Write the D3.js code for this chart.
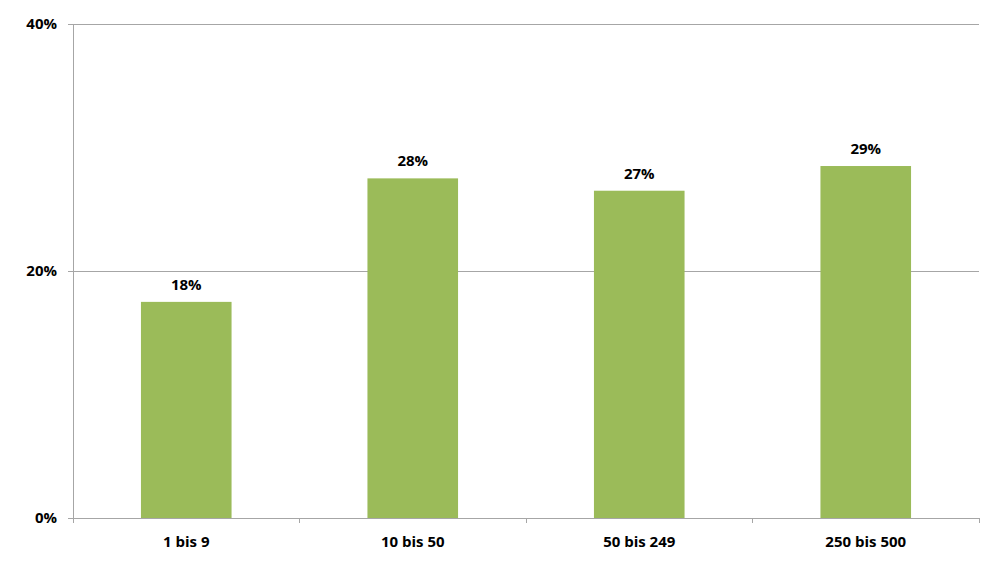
<!DOCTYPE html>
<html>
<head>
<meta charset="utf-8">
<script src="https://cdn.jsdelivr.net/npm/d3@7"></script>
<style>
  body { margin: 0; background: #fff; }
  text { font-family: "Open Sans", "Noto Sans", sans-serif; font-weight: bold; fill: #000; }
</style>
</head>
<body>
<svg id="chart" width="1000" height="577"></svg>
<script>
const categories = ["1 bis 9", "10 bis 50", "50 bis 249", "250 bis 500"];
const values = [17.5, 27.5, 26.5, 28.5];
const valueLabels = ["18%", "28%", "27%", "29%"];
const yTicks = [0, 20, 40];
const yTickLabels = ["0%", "20%", "40%"];

const svg = d3.select("#chart");
const margin = { left: 73, right: 21, top: 24, bottom: 59 };
const W = 1000, H = 577;

const x = d3.scaleBand().domain(categories)
  .range([margin.left, W - margin.right]).paddingInner(0.6).paddingOuter(0.3);
const xb = d3.scaleBand().domain(categories)
  .range([margin.left, W - margin.right]).padding(0);
const y = d3.scaleLinear().domain([0, 40]).range([H - margin.bottom, margin.top]);

const grey = "#a6a6a6";

// gridlines
svg.append("g").selectAll("line").data(yTicks.filter(d => d > 0)).join("line")
  .attr("x1", margin.left).attr("x2", W - margin.right)
  .attr("y1", d => y(d)).attr("y2", d => y(d))
  .attr("stroke", grey).attr("stroke-width", 1).attr("shape-rendering", "crispEdges");

// y axis
const yAxis = svg.append("g").attr("transform", `translate(${margin.left},0)`)
  .call(d3.axisLeft(y).tickValues(yTicks).tickFormat((d, i) => yTickLabels[i]).tickSize(5).tickPadding(11));
yAxis.selectAll("path, line").attr("stroke", grey).attr("shape-rendering", "crispEdges");
yAxis.selectAll("text").attr("font-size", 15).style("font-family", '"Open Sans", sans-serif').style("font-weight", "bold").attr("fill", "#000");

// bars
svg.append("g").selectAll("rect").data(values).join("rect")
  .attr("x", (d, i) => x(categories[i]))
  .attr("width", x.bandwidth())
  .attr("y", d => y(d))
  .attr("height", d => y(0) - y(d))
  .attr("fill", "#9bbb59");

// value labels
svg.append("g").selectAll("text").data(values).join("text")
  .attr("x", (d, i) => x(categories[i]) + x.bandwidth() / 2)
  .attr("y", d => y(d) - 12)
  .attr("text-anchor", "middle")
  .attr("font-size", 15)
  .text((d, i) => valueLabels[i]);

// x axis
const xAxisG = svg.append("g").attr("transform", `translate(0,${y(0)})`);
xAxisG.append("line").attr("x1", margin.left).attr("x2", W - margin.right)
  .attr("y1", 0).attr("y2", 0).attr("stroke", grey).attr("shape-rendering", "crispEdges");
const boundaries = categories.map(c => xb(c)).concat([W - margin.right]);
xAxisG.selectAll("line.tick").data(boundaries).join("line").attr("class", "tick")
  .attr("x1", d => d).attr("x2", d => d).attr("y1", 0).attr("y2", 5)
  .attr("stroke", grey).attr("shape-rendering", "crispEdges");
xAxisG.selectAll("text").data(categories).join("text")
  .attr("x", d => xb(d) + xb.bandwidth() / 2)
  .attr("y", 29)
  .attr("text-anchor", "middle")
  .attr("font-size", 15)
  .text(d => d);
</script>
</body>
</html>
